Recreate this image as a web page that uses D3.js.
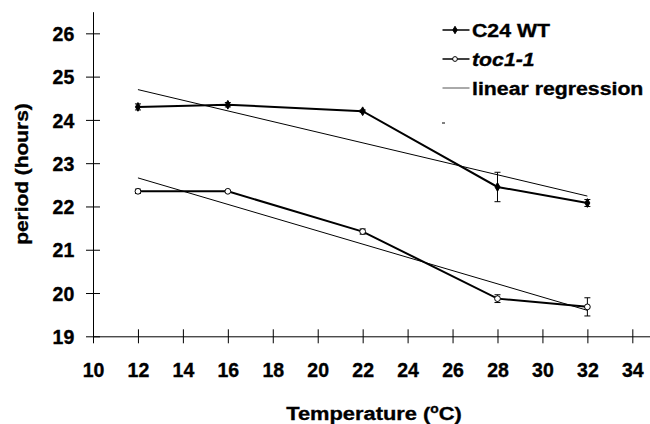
<!DOCTYPE html>
<html>
<head>
<meta charset="utf-8">
<script src="https://cdnjs.cloudflare.com/ajax/libs/d3/7.8.5/d3.min.js"></script>
<style>
  body { margin: 0; background: #fff; }
  svg text { font-family: "Liberation Sans", Arial, sans-serif; font-weight: bold; fill: #000; stroke: #000; stroke-width: 0.35px; }
</style>
</head>
<body>
<div id="chart"></div>
<script>
// values
const temps = [12, 16, 22, 28, 32];
const wtPeriod = [24.3, 24.35, 24.2, 22.45, 22.08];
const wtErr = [0.07, 0.05, 0.03, 0.34, 0.08];
const tocPeriod = [22.35, 22.35, 21.42, 19.87, 19.68];
const tocErr = [0.05, 0.02, 0.06, 0.09, 0.21];
// regression lines, end points at 12 and 32 degrees
const regTemps = [12, 32];
const wtReg = [24.7, 22.24];
const tocReg = [22.66, 19.6];
const xTicks = [10, 12, 14, 16, 18, 20, 22, 24, 26, 28, 30, 32, 34];
const yTicks = [19, 20, 21, 22, 23, 24, 25, 26];
const legendLabels = ["C24 WT", "toc1-1", "linear regression"];

const width = 650, height = 424;

const svg = d3.select("#chart").append("svg")
    .attr("width", width)
    .attr("height", height);

const x = d3.scaleLinear().domain([10, 34.8]).range([93, 650.3]);
const y = d3.scaleLinear().domain([19, 26.5]).range([336.3, 11.7]);

// axes
const xAxis = svg.append("g")
    .attr("transform", `translate(0,${y(19)})`)
    .call(d3.axisBottom(x).tickValues(xTicks).tickSizeOuter(0).tickFormat(d3.format("d")));
xAxis.select(".domain").attr("stroke", "#000");
xAxis.selectAll(".tick line").attr("y1", -7).attr("y2", 7).attr("stroke", "#000");
xAxis.selectAll(".tick text")
    .attr("y", 40.3).attr("dy", 0)
    .attr("font-size", 19.5);

const yAxis = svg.append("g")
    .attr("transform", `translate(${x(10)},0)`)
    .call(d3.axisLeft(y).tickValues(yTicks).tickSizeOuter(0).tickFormat(d3.format("d")));
yAxis.select(".domain").attr("stroke", "#000");
yAxis.selectAll(".tick line").attr("x1", -7).attr("x2", 7).attr("stroke", "#000");
yAxis.selectAll(".tick text")
    .attr("x", -18.7)
    .attr("dy", "0.37em")
    .attr("font-size", 19.5);

svg.selectAll(".tick text").attr("font-family", null);

// axis titles
svg.append("text")
    .attr("transform", `translate(28,174) rotate(-90) scale(1.1,1)`)
    .attr("text-anchor", "middle")
    .attr("font-size", 19)
    .text("period (hours)");

const xt = svg.append("text")
    .attr("transform", `translate(374,420) scale(1.15,1)`)
    .attr("text-anchor", "middle")
    .attr("font-size", 19);
xt.append("tspan").text("Temperature (");
xt.append("tspan").attr("font-size", 12).attr("dy", -7.5).text("o");
xt.append("tspan").attr("dy", 7.5).text("C)");

// regression lines
const line = d3.line().x(d => x(d[0])).y(d => y(d[1]));
[wtReg, tocReg].forEach(reg => {
    svg.append("path")
        .attr("d", line(regTemps.map((t, i) => [t, reg[i]])))
        .attr("fill", "none")
        .attr("stroke", "#000")
        .attr("stroke-width", 1);
});

function drawSeries(vals, errs, filled) {
    const pts = temps.map((t, i) => [t, vals[i], errs[i]]);
    svg.append("path")
        .attr("d", line(pts))
        .attr("fill", "none")
        .attr("stroke", "#000")
        .attr("stroke-width", 2);

    const eb = svg.append("g").selectAll("g").data(pts).enter().append("g");
    eb.append("line")
        .attr("x1", d => x(d[0])).attr("x2", d => x(d[0]))
        .attr("y1", d => y(d[1] - d[2])).attr("y2", d => y(d[1] + d[2]))
        .attr("stroke", "#000");
    [-1, 1].forEach(s => {
        eb.append("line")
            .attr("x1", d => x(d[0]) - 3).attr("x2", d => x(d[0]) + 3)
            .attr("y1", d => y(d[1] + s * d[2])).attr("y2", d => y(d[1] + s * d[2]))
            .attr("stroke", "#000");
    });

    svg.append("g").selectAll("path").data(pts).enter().append("path")
        .attr("transform", d => `translate(${x(d[0])},${y(d[1])})`)
        .attr("d", filled ? d3.symbol(d3.symbolDiamond, 22)() : d3.symbol(d3.symbolCircle, 26)())
        .attr("fill", filled ? "#000" : "#fff")
        .attr("stroke", "#000")
        .attr("stroke-width", 1);
}

drawSeries(wtPeriod, wtErr, true);
drawSeries(tocPeriod, tocErr, false);

// legend
const legendY = [30, 59, 88];
const leg = svg.append("g");
legendLabels.forEach((lab, i) => {
    const ly = legendY[i];
    leg.append("line")
        .attr("x1", 442.5).attr("x2", 469.5)
        .attr("y1", ly).attr("y2", ly)
        .attr("stroke", i === 2 ? "#555" : "#000")
        .attr("stroke-width", i === 2 ? 1 : 1.5);
    if (i < 2) {
        leg.append("path")
            .attr("transform", `translate(455,${ly})`)
            .attr("d", i === 0 ? d3.symbol(d3.symbolDiamond, 16)() : d3.symbol(d3.symbolCircle, 18)())
            .attr("fill", i === 0 ? "#000" : "#fff")
            .attr("stroke", "#000");
    }
    leg.append("text")
        .attr("transform", `translate(472,${ly + 6.5}) scale(1.12,1)`)
        .attr("font-size", 19)
        .attr("font-style", i === 1 ? "italic" : "normal")
        .text(lab);
});
// stray dash under the legend
leg.append("line")
    .attr("x1", 442).attr("x2", 445)
    .attr("y1", 123).attr("y2", 123)
    .attr("stroke", "#000");
</script>
</body>
</html>
